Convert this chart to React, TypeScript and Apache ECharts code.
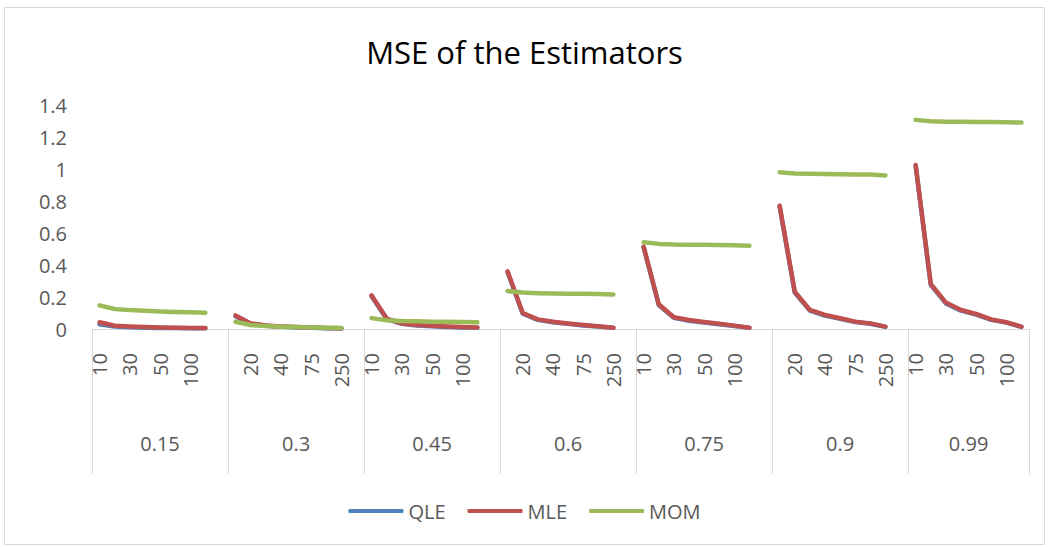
import React, { useEffect, useRef } from "react";
import * as echarts from "echarts";

const sampleSizes = ["10", "20", "30", "40", "50", "75", "100", "250"];
const pValues = ["0.15", "0.3", "0.45", "0.6", "0.75", "0.9", "0.99"];

const qleByGroup = [
  [0.03, 0.016, 0.011, 0.008, 0.007, 0.006, 0.005, 0.004],
  [0.08, 0.032, 0.02, 0.014, 0.011, 0.008, 0.005, 0.003],
  [0.205, 0.062, 0.032, 0.022, 0.017, 0.013, 0.01, 0.008],
  [0.355, 0.096, 0.057, 0.042, 0.032, 0.022, 0.015, 0.007],
  [0.51, 0.15, 0.07, 0.052, 0.041, 0.03, 0.019, 0.007],
  [0.765, 0.228, 0.115, 0.084, 0.064, 0.043, 0.033, 0.013],
  [1.02, 0.276, 0.16, 0.115, 0.09, 0.057, 0.04, 0.013],
];
const mleByGroup = [
  [0.042, 0.02, 0.015, 0.012, 0.01, 0.008, 0.007, 0.006],
  [0.085, 0.035, 0.022, 0.016, 0.012, 0.009, 0.006, 0.004],
  [0.21, 0.065, 0.035, 0.025, 0.02, 0.015, 0.012, 0.01],
  [0.36, 0.1, 0.06, 0.045, 0.035, 0.025, 0.017, 0.008],
  [0.515, 0.155, 0.073, 0.056, 0.044, 0.033, 0.021, 0.008],
  [0.771, 0.233, 0.119, 0.088, 0.067, 0.046, 0.035, 0.015],
  [1.025, 0.281, 0.165, 0.119, 0.094, 0.06, 0.042, 0.015],
];
const momByGroup = [
  [0.148, 0.125, 0.118, 0.114, 0.11, 0.106, 0.104, 0.102],
  [0.045, 0.025, 0.018, 0.014, 0.012, 0.01, 0.008, 0.007],
  [0.068, 0.055, 0.05, 0.048, 0.046, 0.045, 0.044, 0.042],
  [0.237, 0.228, 0.224, 0.222, 0.221, 0.22, 0.219, 0.216],
  [0.542, 0.532, 0.528, 0.527, 0.526, 0.525, 0.523, 0.521],
  [0.98, 0.972, 0.97, 0.968, 0.967, 0.966, 0.965, 0.96],
  [1.307, 1.298, 1.296, 1.295, 1.294, 1.293, 1.292, 1.29],
];
const yTicks = [0, 0.2, 0.4, 0.6, 0.8, 1, 1.2, 1.4];

// Build flattened categories with a blank separator after each group except the last
const categories: string[] = [];
const groupStart: number[] = [];
pValues.forEach((_, gi) => {
  groupStart.push(categories.length);
  sampleSizes.forEach((s) => categories.push(s));
  if (gi < pValues.length - 1) categories.push("");
});
const flatten = (byGroup: number[][]) => {
  const out: (number | null)[] = [];
  byGroup.forEach((g, gi) => {
    g.forEach((v) => out.push(v));
    if (gi < byGroup.length - 1) out.push(null);
  });
  return out;
};
const total = categories.length;
const boundaries = [...groupStart, total];
const centers = groupStart.map((s, i) => {
  const end = i < pValues.length - 1 ? groupStart[i + 1] : total;
  return (s + end) / 2;
});

const FONT = "'Open Sans', 'Noto Sans', sans-serif";
const GREY = "#595959";
const COLORS = ["#4F81BD", "#C0504D", "#9BBB59"];

export default function App() {
  const ref = useRef<HTMLDivElement>(null);
  useEffect(() => {
    document.body.style.margin = "0";
    const chart = echarts.init(ref.current!, null, { renderer: "svg" });
    const lineStyle = (color: string) => ({
      width: 4.5,
      color,
      cap: "round" as const,
      join: "round" as const,
    });
    chart.setOption({
      animation: false,
      backgroundColor: "#fff",
      title: {
        text: "MSE of the Estimators",
        left: "center",
        top: 31,
        textStyle: { fontFamily: FONT, fontSize: 31, fontWeight: "normal", color: "#000" },
      },
      legend: {
        top: 496,
        left: "center",
        icon: "roundRect",
        itemWidth: 55,
        itemHeight: 4,
        itemGap: 22,
        textStyle: { fontFamily: FONT, fontSize: 20, color: GREY },
        data: ["QLE", "MLE", "MOM"],
      },
      grid: { left: 92, right: 20, top: 105, bottom: 218 },
      xAxis: [
        {
          type: "category",
          data: categories,
          boundaryGap: true,
          axisLine: { show: true, lineStyle: { color: "#D9D9D9", width: 1 } },
          axisTick: { show: false },
          axisLabel: {
            interval: 1,
            rotate: 90,
            margin: 24,
            fontFamily: FONT,
            fontSize: 20,
            color: GREY,
          },
          splitLine: { show: false },
        },
        {
          type: "value",
          position: "bottom",
          min: 0,
          max: total,
          axisLine: { show: false },
          splitLine: { show: false },
          axisTick: {
            show: true,
            customValues: boundaries,
            length: 145,
            lineStyle: { color: "#D9D9D9", width: 1 },
          },
          axisLabel: {
            show: true,
            customValues: centers,
            margin: 104,
            fontFamily: FONT,
            fontSize: 20,
            color: GREY,
            formatter: (v: number) => {
              const i = centers.findIndex((c) => Math.abs(c - v) < 1e-6);
              return i >= 0 ? pValues[i] : "";
            },
          },
        },
      ],
      yAxis: {
        type: "value",
        min: 0,
        max: 1.4,
        interval: 0.2,
        axisLine: { show: false },
        axisTick: { show: false },
        splitLine: { show: false },
        axisLabel: {
          margin: 25,
          fontFamily: FONT,
          fontSize: 20,
          color: GREY,
          formatter: (v: number) => {
            const t = yTicks.find((y) => Math.abs(y - v) < 1e-9);
            return t === undefined ? "" : String(t);
          },
        },
      },
      series: [
        { name: "QLE", type: "line", data: flatten(qleByGroup), symbol: "none", connectNulls: false, color: COLORS[0], lineStyle: lineStyle(COLORS[0]) },
        { name: "MLE", type: "line", data: flatten(mleByGroup), symbol: "none", connectNulls: false, color: COLORS[1], lineStyle: lineStyle(COLORS[1]) },
        { name: "MOM", type: "line", data: flatten(momByGroup), symbol: "none", connectNulls: false, color: COLORS[2], lineStyle: lineStyle(COLORS[2]) },
      ],
      graphic: [
        {
          type: "rect",
          shape: { x: 4.5, y: 7.5, width: 1040, height: 537 },
          style: { fill: "none", stroke: "#D9D9D9", lineWidth: 1 },
          silent: true,
        },
      ],
    });
    return () => chart.dispose();
  }, []);
  return <div ref={ref} style={{ width: 1049, height: 547 }} />;
}
